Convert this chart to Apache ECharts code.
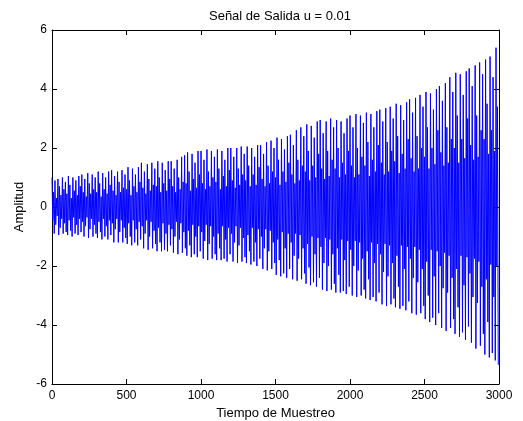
<!DOCTYPE html>
<html><head><meta charset="utf-8">
<script src="https://cdn.jsdelivr.net/npm/echarts@6/dist/echarts.min.js"></script>
<style>html,body{margin:0;padding:0;background:#fff}#c{width:523px;height:421px}</style>
</head><body><div id="c"></div>
<script>
// Spacing of the read-off strokes (samples)
var step = 10;
// Upper stroke ends, one per 10 samples
var hi = [
 1.0,0.5,0.9,0.3,0.95,0.7,0.4,1.0,0.6,0.85,
 0.45,1.05,0.75,0.3,1.0,0.55,0.9,0.4,1.05,0.7,
 1.1,0.5,0.95,0.35,1.15,0.8,0.45,1.1,0.6,1.0,
 0.5,1.2,0.8,0.35,1.15,0.6,1.0,0.45,1.2,0.75,
 1.25,0.55,1.05,0.4,1.2,0.85,0.5,1.25,0.65,1.1,
 0.6,1.35,0.9,0.4,1.3,0.7,1.1,0.5,1.35,0.85,
 1.5,0.65,1.2,0.45,1.45,0.95,0.55,1.5,0.75,1.3,
 0.7,1.55,1.0,0.5,1.5,0.8,1.25,0.55,1.55,0.95,
 1.55,0.7,1.3,0.5,1.6,1.0,0.6,1.7,0.85,1.75,
 0.8,1.85,1.2,0.55,1.8,0.95,1.5,0.65,1.9,1.1,
 1.9,0.8,1.6,0.6,1.95,1.2,0.7,1.9,1.0,1.7,
 0.85,1.95,1.3,0.6,1.9,1.05,1.6,0.7,2.0,1.25,
 2.0,0.9,1.7,0.65,2.0,1.3,0.75,2.05,1.1,1.8,
 0.9,2.05,1.4,0.7,2.0,1.1,1.7,0.75,2.1,1.35,
 2.1,0.95,1.8,0.7,2.2,1.4,0.8,2.25,1.2,2.0,
 1.0,2.35,1.6,0.75,2.3,1.2,1.95,0.85,2.4,1.5,
 2.45,1.1,2.1,0.8,2.6,1.6,0.9,2.7,1.4,2.4,
 1.2,2.8,1.9,0.9,2.75,1.4,2.35,1.0,2.9,1.8,
 2.95,1.3,2.5,0.95,2.9,1.9,1.05,3.0,1.6,2.7,
 1.3,2.95,2.0,1.0,2.9,1.5,2.5,1.1,3.0,1.9,
 3.1,1.4,2.7,1.0,3.15,2.0,1.1,3.1,1.7,2.85,
 1.4,3.2,2.2,1.05,3.15,1.6,2.7,1.2,3.25,2.1,
 3.3,1.5,2.9,1.1,3.35,2.2,1.2,3.4,1.9,3.0,
 1.55,3.5,2.4,1.15,3.45,1.8,2.95,1.3,3.55,2.3,
 3.65,1.65,3.2,1.2,3.7,2.4,1.3,3.8,2.0,3.4,
 1.7,3.9,2.7,1.3,3.85,2.0,3.3,1.45,4.0,2.6,
 4.1,1.85,3.6,1.4,4.2,2.7,1.5,4.4,2.3,3.9,
 2.0,4.55,3.1,1.5,4.5,2.3,3.8,1.65,4.6,3.0,
 4.7,2.1,4.1,1.6,4.8,3.1,1.7,4.9,2.6,4.5,
 2.3,5.0,3.5,1.8,5.1,2.6,4.4,1.9,5.4,3.4
];
// Lower stroke ends, one per 10 samples, offset by half a step
var lo = [
 -0.45,-0.9,-0.6,-0.3,-0.95,-0.7,-0.4,-0.9,-0.55,-0.85,
 -0.95,-0.45,-0.8,-1.0,-0.35,-0.9,-0.6,-0.95,-0.4,-0.85,
 -0.5,-1.0,-0.65,-0.35,-1.05,-0.75,-0.4,-1.0,-0.6,-0.9,
 -1.05,-0.5,-0.85,-1.1,-0.4,-1.0,-0.65,-1.1,-0.45,-0.95,
 -0.55,-1.2,-0.75,-0.4,-1.2,-0.85,-0.45,-1.2,-0.7,-1.05,
 -1.25,-0.55,-1.0,-1.3,-0.45,-1.2,-0.75,-1.3,-0.5,-1.1,
 -0.65,-1.4,-0.9,-0.45,-1.45,-1.0,-0.5,-1.4,-0.8,-1.25,
 -1.5,-0.7,-1.2,-1.5,-0.55,-1.45,-0.9,-1.5,-0.6,-1.3,
 -0.75,-1.55,-1.0,-0.5,-1.6,-1.1,-0.55,-1.55,-0.85,-1.4,
 -1.65,-0.8,-1.3,-1.7,-0.6,-1.6,-1.0,-1.7,-0.65,-1.5,
 -0.85,-1.75,-1.15,-0.6,-1.8,-1.25,-0.65,-1.75,-1.0,-1.6,
 -1.8,-0.9,-1.4,-1.8,-0.65,-1.75,-1.1,-1.85,-0.7,-1.6,
 -0.9,-1.85,-1.2,-0.65,-1.9,-1.3,-0.7,-1.85,-1.05,-1.7,
 -1.9,-0.95,-1.5,-1.95,-0.7,-1.85,-1.2,-2.0,-0.75,-1.75,
 -1.0,-2.1,-1.4,-0.75,-2.15,-1.5,-0.8,-2.1,-1.2,-1.9,
 -2.3,-1.1,-1.8,-2.35,-0.85,-2.25,-1.4,-2.4,-0.9,-2.1,
 -1.2,-2.45,-1.65,-0.9,-2.5,-1.75,-0.95,-2.45,-1.4,-2.25,
 -2.6,-1.25,-2.05,-2.65,-1.0,-2.55,-1.6,-2.7,-1.05,-2.4,
 -1.35,-2.8,-1.9,-1.05,-2.85,-2.0,-1.1,-2.8,-1.6,-2.6,
 -2.9,-1.4,-2.3,-2.9,-1.1,-2.85,-1.8,-2.95,-1.15,-2.7,
 -1.45,-3.0,-2.0,-1.15,-3.05,-2.15,-1.2,-3.0,-1.75,-2.8,
 -3.1,-1.5,-2.45,-3.15,-1.2,-3.05,-1.9,-3.2,-1.25,-2.9,
 -1.6,-3.3,-2.2,-1.25,-3.35,-2.35,-1.3,-3.3,-1.9,-3.1,
 -3.4,-1.65,-2.7,-3.45,-1.3,-3.35,-2.1,-3.5,-1.35,-3.2,
 -1.75,-3.6,-2.4,-1.35,-3.65,-2.55,-1.45,-3.6,-2.1,-3.35,
 -3.8,-1.85,-3.0,-3.9,-1.45,-3.75,-2.35,-4.0,-1.5,-3.6,
 -2.0,-4.1,-2.75,-1.55,-4.2,-2.9,-1.65,-4.1,-2.4,-3.8,
 -4.3,-2.1,-3.4,-4.4,-1.65,-4.25,-2.65,-4.5,-1.7,-4.05,
 -2.25,-4.6,-3.05,-1.75,-4.8,-3.25,-1.85,-4.7,-2.7,-4.3,
 -5.0,-2.45,-3.9,-5.1,-1.95,-4.95,-3.05,-5.2,-2.0,-5.35
];
var xTicks = [0, 500, 1000, 1500, 2000, 2500, 3000];
var yTicks = [-6, -4, -2, 0, 2, 4, 6];

var data = [];
for (var i = 0; i < hi.length; i++) {
  data.push([i * step, hi[i]]);
  data.push([i * step + step / 2, lo[i]]);
}

var font = '"Liberation Sans", Arial, Helvetica, sans-serif';
var axisCommon = {
  axisLine: {show: true, onZero: false, lineStyle: {color: '#000', width: 1}},
  axisTick: {show: true, inside: true, length: 5, lineStyle: {color: '#000'}},
  splitLine: {show: false}
};
var chart = echarts.init(document.getElementById('c'), null, {renderer: 'canvas'});
chart.setOption({
  animation: false,
  backgroundColor: '#fff',
  title: {text: 'Señal de Salida u = 0.01', left: 275, top: 5, textAlign: 'center',
    textStyle: {fontFamily: font, fontSize: 13, fontWeight: 'normal', color: '#000'}},
  grid: {left: 52, right: 24, top: 30, bottom: 37, containLabel: false, outerBoundsMode: 'none'},
  xAxis: [
    Object.assign({type: 'value', min: xTicks[0], max: xTicks[xTicks.length - 1], interval: 500, position: 'bottom',
      name: 'Tiempo de Muestreo', nameLocation: 'middle', nameGap: 23,
      nameTextStyle: {fontFamily: font, fontSize: 13, color: '#000'},
      axisLabel: {fontFamily: font, fontSize: 12, color: '#000', margin: 6,
        formatter: function (v) { return String(v); }}}, axisCommon),
    Object.assign({type: 'value', min: xTicks[0], max: xTicks[xTicks.length - 1], interval: 500, position: 'top',
      axisLabel: {show: false}}, axisCommon)
  ],
  yAxis: [
    Object.assign({type: 'value', min: yTicks[0], max: yTicks[yTicks.length - 1], interval: 2, position: 'left',
      name: 'Amplitud', nameLocation: 'middle', nameGap: 25, nameRotate: 90,
      nameTextStyle: {fontFamily: font, fontSize: 13, color: '#000'},
      axisLabel: {fontFamily: font, fontSize: 12, color: '#000', margin: 5,
        formatter: function (v) { return String(v); }}}, axisCommon),
    Object.assign({type: 'value', min: yTicks[0], max: yTicks[yTicks.length - 1], interval: 2, position: 'right',
      axisLabel: {show: false}}, axisCommon)
  ],
  series: [{
    type: 'line', data: data, showSymbol: false, symbol: 'none',
    lineStyle: {color: '#0000ff', width: 1}, sampling: null, z: 1
  }]
});
</script></body></html>
